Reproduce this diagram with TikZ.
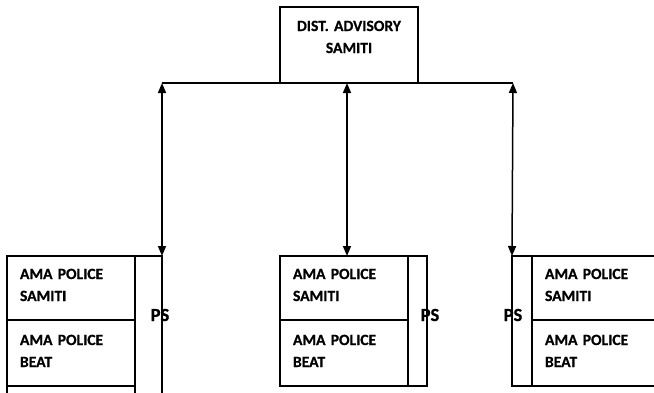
\documentclass[tikz,border=0pt]{standalone}
\usepackage{fontspec}
\setmainfont{Carlito}[WordSpace=0.6, BoldFeatures={FakeBold=0.7}]
\usetikzlibrary{arrows.meta}
\begin{document}
\begin{tikzpicture}[x=1pt,y=-1pt,
  box/.style={draw, line width=1.1pt, anchor=north west, inner xsep=13pt, inner ysep=0pt,
    outer sep=0pt, text width=102pt, align=left, font=\fontsize{15.6}{22}\selectfont\bfseries},
  col/.style={draw, line width=1.1pt, anchor=north west, inner sep=0pt, outer sep=0pt},
  pslabel/.style={font=\fontsize{18.5}{20}\selectfont\bfseries, inner sep=0pt},
  link/.style={line width=1.5pt, {Triangle[length=10pt,width=8pt]}-{Triangle[length=10pt,width=8pt]}},
  bar/.style={line width=1.1pt}]
\useasboundingbox (0,0) rectangle (654,392);
\clip (0,0) rectangle (654,392);
% top box
\node[box, text width=112pt, align=center, text height=24pt, text depth=52pt] (top) at (280,7) {DIST. ADVISORY\\SAMITI};
% left group
\node[col, minimum width=27pt, minimum height=160pt] (lps) at (135,256) {};
\node[box, text height=23pt, text depth=41pt] (lsam) at (7,256) {AMA POLICE\\SAMITI};
\node[box, text height=25pt, text depth=41pt] (lbeat) at (7,320) {AMA POLICE\\BEAT};
\node[col, minimum width=128pt, minimum height=40pt] (lnext) at (7,386) {};
\node[pslabel] (lpst) at (160,315) {PS};
% middle group
\node[col, minimum width=19pt, minimum height=130pt] (mps) at (408,256) {};
\node[box, text height=23pt, text depth=41pt] (msam) at (280,256) {AMA POLICE\\SAMITI};
\node[box, text height=25pt, text depth=41pt] (mbeat) at (280,320) {AMA POLICE\\BEAT};
\node[pslabel] (mpst) at (430,315) {PS};
% right group
\node[col, minimum width=20pt, minimum height=130pt] (rps) at (512,256) {};
\node[box, text height=23pt, text depth=41pt] (rsam) at (532,256) {AMA POLICE\\SAMITI};
\node[box, text height=25pt, text depth=41pt] (rbeat) at (532,320) {AMA POLICE\\BEAT};
\node[pslabel] (rpst) at (513,315) {PS};
% connectors
\coordinate (hl) at (162,83);
\coordinate (hm) at (347,83);
\coordinate (hr) at (513,83);
\draw[bar] (hl) -- (hr);
\draw[link] (hl) -- (lps.north east);
\draw[link] (hm) -- (hm |- msam.north);
\draw[link] (hr) -- (rps.north west);
\end{tikzpicture}
\end{document}
